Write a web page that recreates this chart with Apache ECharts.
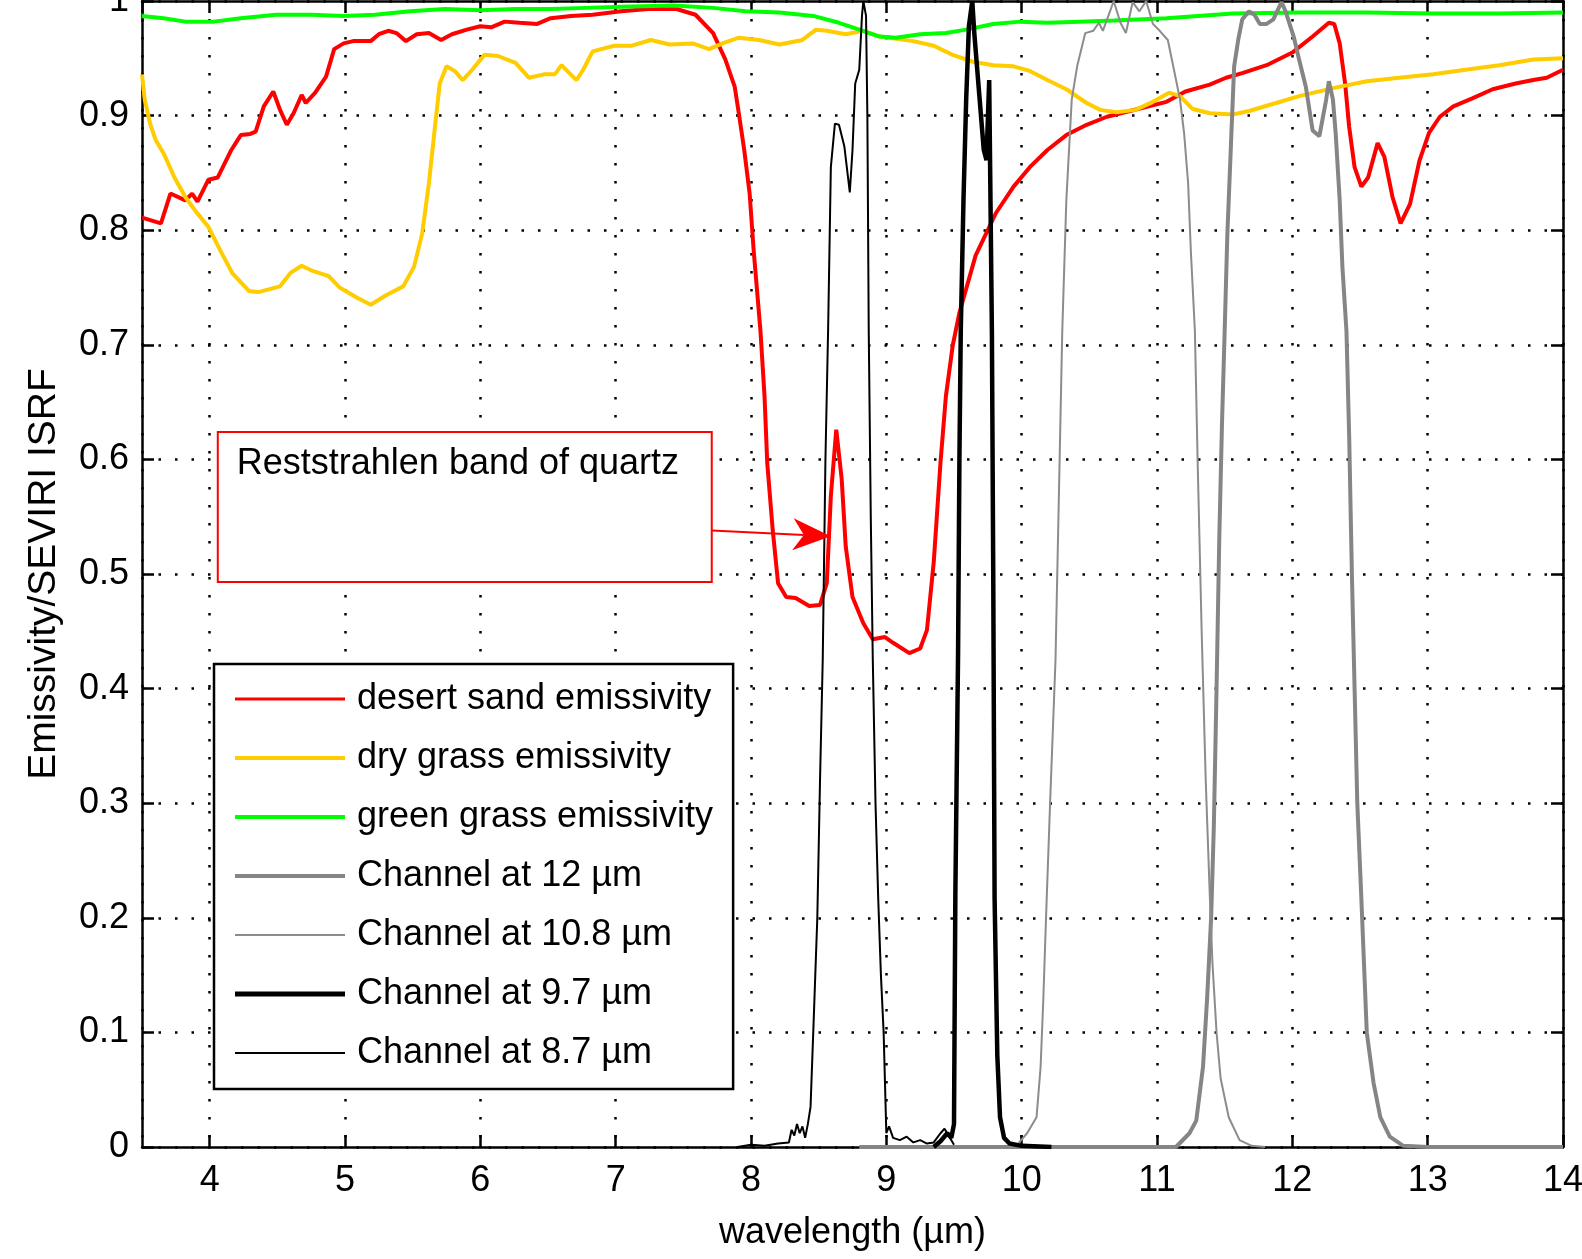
<!DOCTYPE html>
<html><head><meta charset="utf-8">
<script src="https://cdn.jsdelivr.net/npm/echarts@6/dist/echarts.min.js"></script>
<style>html,body{margin:0;padding:0;background:#fff}#c{width:1582px;height:1259px}</style>
</head><body><div id="c"></div>
<script>
// ---------- data ----------
const sandX = [3.50,3.64,3.71,3.82,3.87,3.91,3.99,4.06,4.16,4.23,4.30,4.34,4.40,4.47,4.52,4.57,4.62,4.68,4.71,4.78,4.86,4.92,4.99,5.06,5.19,5.25,5.32,5.38,5.45,5.53,5.62,5.71,5.79,5.90,6.00,6.08,6.18,6.29,6.42,6.52,6.67,6.83,7.04,7.24,7.45,7.59,7.72,7.81,7.88,7.91,7.95,7.99,8.02,8.07,8.10,8.12,8.16,8.20,8.26,8.33,8.43,8.51,8.56,8.59,8.63,8.67,8.70,8.75,8.83,8.90,8.99,9.05,9.17,9.25,9.30,9.35,9.40,9.44,9.49,9.54,9.66,9.81,9.94,10.06,10.19,10.33,10.48,10.63,10.80,11.07,11.21,11.39,11.51,11.63,11.81,12.00,12.15,12.27,12.31,12.35,12.39,12.42,12.46,12.51,12.56,12.63,12.68,12.74,12.80,12.87,12.94,13.01,13.09,13.19,13.33,13.48,13.65,13.78,13.88,14.00];
const sandY = [0.811,0.806,0.832,0.826,0.832,0.825,0.844,0.846,0.870,0.883,0.884,0.886,0.908,0.921,0.905,0.892,0.902,0.918,0.911,0.920,0.934,0.958,0.963,0.965,0.965,0.971,0.974,0.972,0.965,0.971,0.972,0.966,0.971,0.975,0.978,0.977,0.982,0.981,0.980,0.985,0.987,0.988,0.991,0.993,0.993,0.988,0.972,0.949,0.925,0.902,0.870,0.832,0.782,0.712,0.655,0.597,0.539,0.492,0.480,0.479,0.472,0.473,0.492,0.568,0.626,0.583,0.524,0.480,0.457,0.443,0.445,0.440,0.431,0.435,0.451,0.510,0.597,0.655,0.699,0.728,0.778,0.815,0.838,0.855,0.870,0.883,0.892,0.899,0.904,0.912,0.921,0.927,0.933,0.937,0.944,0.955,0.969,0.981,0.980,0.963,0.928,0.890,0.855,0.838,0.846,0.876,0.864,0.829,0.806,0.823,0.861,0.885,0.899,0.908,0.915,0.923,0.928,0.931,0.933,0.940];

const dryX = [3.50,3.52,3.56,3.60,3.66,3.74,3.82,3.90,3.99,4.08,4.17,4.29,4.36,4.52,4.60,4.68,4.75,4.88,4.96,5.09,5.19,5.30,5.43,5.51,5.57,5.62,5.66,5.70,5.75,5.81,5.87,5.94,6.03,6.13,6.26,6.36,6.47,6.55,6.60,6.71,6.76,6.83,6.99,7.12,7.26,7.40,7.57,7.69,7.79,7.91,8.06,8.21,8.38,8.48,8.56,8.70,8.83,8.95,9.20,9.35,9.49,9.64,9.79,9.94,10.06,10.19,10.33,10.48,10.58,10.70,10.84,10.97,11.09,11.17,11.26,11.39,11.56,11.68,11.88,12.05,12.30,12.55,12.79,13.04,13.28,13.53,13.78,14.00];
const dryY = [0.936,0.914,0.893,0.879,0.867,0.846,0.829,0.816,0.803,0.782,0.762,0.747,0.746,0.751,0.763,0.769,0.765,0.760,0.750,0.741,0.735,0.743,0.751,0.768,0.797,0.841,0.885,0.928,0.943,0.939,0.931,0.940,0.953,0.952,0.946,0.933,0.936,0.936,0.944,0.931,0.940,0.956,0.961,0.961,0.966,0.962,0.963,0.958,0.963,0.968,0.966,0.962,0.966,0.975,0.974,0.971,0.974,0.969,0.965,0.961,0.953,0.947,0.944,0.943,0.939,0.931,0.923,0.911,0.905,0.903,0.905,0.912,0.920,0.917,0.906,0.902,0.901,0.904,0.911,0.917,0.924,0.930,0.933,0.936,0.940,0.944,0.949,0.950];

const greenX = [3.50,3.66,3.82,4.03,4.23,4.49,4.75,4.99,5.22,5.48,5.74,6.00,6.26,6.52,6.78,7.04,7.43,7.72,7.96,8.21,8.46,8.65,8.80,8.95,9.07,9.25,9.44,9.59,9.79,9.99,10.19,10.43,10.68,11.07,11.56,12.05,12.55,13.04,13.53,14.00];
const greenY = [0.987,0.985,0.982,0.982,0.985,0.988,0.988,0.987,0.988,0.991,0.993,0.992,0.993,0.993,0.994,0.995,0.996,0.994,0.991,0.990,0.987,0.981,0.975,0.969,0.968,0.971,0.972,0.975,0.980,0.982,0.981,0.982,0.983,0.985,0.989,0.990,0.990,0.989,0.989,0.990];

const ch12X = [8.80,9.50,10.50,11.14,11.24,11.29,11.34,11.37,11.40,11.42,11.44,11.46,11.48,11.50,11.52,11.55,11.57,11.60,11.63,11.68,11.72,11.76,11.81,11.86,11.92,11.95,12.01,12.05,12.10,12.15,12.20,12.25,12.27,12.30,12.32,12.35,12.37,12.40,12.42,12.44,12.46,12.48,12.51,12.55,12.60,12.65,12.72,12.82,13.00,14.00];
const ch12Y = [0,0,0,0,0.012,0.023,0.070,0.129,0.200,0.280,0.400,0.530,0.630,0.712,0.797,0.885,0.943,0.966,0.984,0.991,0.988,0.980,0.980,0.984,0.999,0.991,0.969,0.949,0.925,0.887,0.882,0.914,0.930,0.914,0.885,0.826,0.768,0.712,0.620,0.500,0.400,0.300,0.217,0.100,0.056,0.026,0.009,0.001,0,0];

const ch108X = [9.90,9.96,10.04,10.11,10.14,10.16,10.18,10.21,10.25,10.28,10.30,10.33,10.37,10.41,10.47,10.53,10.57,10.60,10.65,10.68,10.73,10.77,10.82,10.87,10.92,10.97,11.02,11.08,11.12,11.17,11.20,11.23,11.25,11.28,11.30,11.33,11.36,11.39,11.41,11.44,11.47,11.53,11.61,11.70,11.80];
const ch108Y = [0,0.001,0.012,0.026,0.070,0.129,0.200,0.300,0.425,0.597,0.712,0.826,0.914,0.943,0.972,0.974,0.981,0.974,0.990,1.000,0.981,0.972,0.999,0.991,1.000,0.980,0.974,0.966,0.943,0.914,0.885,0.841,0.782,0.712,0.600,0.450,0.320,0.220,0.160,0.100,0.060,0.026,0.006,0.001,0];

const ch97X = [9.35,9.40,9.45,9.48,9.50,9.51,9.53,9.54,9.55,9.57,9.59,9.61,9.635,9.65,9.68,9.70,9.72,9.74,9.76,9.77,9.78,9.79,9.80,9.82,9.84,9.87,9.91,10.00,10.22];
const ch97Y = [0,0.005,0.012,0.008,0.020,0.220,0.430,0.600,0.712,0.826,0.914,0.978,1.000,0.972,0.928,0.899,0.870,0.861,0.931,0.930,0.712,0.500,0.217,0.080,0.026,0.008,0.003,0.001,0];

const ch87X = [7.90,8.00,8.10,8.20,8.28,8.30,8.32,8.34,8.36,8.38,8.40,8.42,8.44,8.46,8.49,8.51,8.53,8.55,8.57,8.59,8.62,8.65,8.69,8.73,8.75,8.77,8.80,8.82,8.83,8.85,8.86,8.87,8.885,8.90,8.92,8.94,8.96,8.98,9.00,9.02,9.05,9.10,9.15,9.20,9.25,9.30,9.35,9.40,9.43,9.46,9.50];
const ch87Y = [0,0.002,0.001,0.003,0.004,0.015,0.010,0.020,0.012,0.018,0.008,0.020,0.035,0.100,0.200,0.320,0.425,0.600,0.714,0.855,0.893,0.892,0.873,0.833,0.870,0.928,0.940,0.987,1.000,0.987,0.899,0.712,0.550,0.425,0.300,0.217,0.150,0.100,0.012,0.018,0.008,0.006,0.009,0.004,0.006,0.003,0.004,0.012,0.016,0.010,0.002];

const seriesNames = ['desert sand emissivity','dry grass emissivity','green grass emissivity','Channel at 12 \u00b5m','Channel at 10.8 \u00b5m','Channel at 9.7 \u00b5m','Channel at 8.7 \u00b5m'];
const xTitle = 'wavelength (\u00b5m)';
const yTitle = 'Emissivity/SEVIRI ISRF';
const annotText = 'Reststrahlen band of quartz';
// annotation anchor points in data coordinates: box [x0, x1, yTop, yBottom], arrow [from, to]
const annotBox = [4.06, 7.71, 0.624, 0.493];
const annotArrow = [[7.71, 0.538], [8.59, 0.533]];

// ---------- chart ----------
const FONT = '"Liberation Sans", Arial, Helvetica, sans-serif';
const pairs = (xs, ys) => xs.map((x, i) => [x, ys[i]]);
const styles = [
  {color:'#ff0000', width:4},
  {color:'#ffcc00', width:4},
  {color:'#00ff00', width:4},
  {color:'#858585', width:4},
  {color:'#8c8c8c', width:2},
  {color:'#000000', width:4.5},
  {color:'#000000', width:2}
];
const legendThick = [3, 4, 4, 4, 2, 5, 2];
const dataSets = [pairs(sandX,sandY), pairs(dryX,dryY), pairs(greenX,greenY), pairs(ch12X,ch12Y), pairs(ch108X,ch108Y), pairs(ch97X,ch97Y), pairs(ch87X,ch87Y)];

const chart = echarts.init(document.getElementById('c'), null, {renderer:'canvas'});
const axisLineStyle = {color:'#000', width:2.5};
const yFmt = v => (Math.abs(v) < 1e-9 ? '0' : (Math.abs(v - 1) < 1e-9 ? '1' : v.toFixed(1)));

chart.setOption({
  animation: false,
  backgroundColor: '#fff',
  grid: {left:142, right:19, top:1, bottom:112, containLabel:false, outerBoundsMode:'none'},
  xAxis: [{
    type:'value', min:3.5, max:14, splitNumber:10, position:'bottom',
    axisLine:{show:true, onZero:false, lineStyle:axisLineStyle},
    axisTick:{show:true, inside:true, length:12, lineStyle:axisLineStyle},
    axisLabel:{show:true, showMinLabel:false, hideOverlap:false, fontSize:36, color:'#000', fontFamily:FONT, margin:16},
    splitLine:{show:true, lineStyle:{color:'#000', width:2.5, type:[2.5,15.5]}},
    name:xTitle, nameLocation:'middle', nameGap:68,
    nameTextStyle:{fontSize:36, color:'#000', fontFamily:FONT}
  },{
    type:'value', min:3.5, max:14, splitNumber:10, position:'top',
    axisLine:{show:true, onZero:false, lineStyle:axisLineStyle},
    axisTick:{show:true, inside:true, length:12, lineStyle:axisLineStyle},
    axisLabel:{show:false}, splitLine:{show:false}
  }],
  yAxis: [{
    type:'value', min:0, max:1, interval:0.1, position:'left',
    axisLine:{show:true, onZero:false, lineStyle:axisLineStyle},
    axisTick:{show:true, inside:true, length:12, lineStyle:axisLineStyle},
    axisLabel:{show:true, hideOverlap:false, fontSize:36, color:'#000', fontFamily:FONT, margin:13, formatter:yFmt},
    splitLine:{show:true, lineStyle:{color:'#000', width:2.5, type:[2.5,14]}},
    name:yTitle, nameLocation:'middle', nameGap:78,
    nameTextStyle:{fontSize:39, color:'#000', fontFamily:FONT}
  },{
    type:'value', min:0, max:1, interval:0.1, position:'right',
    axisLine:{show:true, onZero:false, lineStyle:axisLineStyle},
    axisTick:{show:true, inside:true, length:12, lineStyle:axisLineStyle},
    axisLabel:{show:false}, splitLine:{show:false}
  }],
  legend: {
    data: seriesNames.map((n, i) => ({name:n, icon:'path://M0 0H110V' + legendThick[i] + 'H0Z'})),
    orient:'vertical', left:214, top:664, symbolKeepAspect:true,
    padding:[17,20,18,21], itemWidth:110, itemHeight:36, itemGap:23,
    borderColor:'#000', borderWidth:2.5, backgroundColor:'#fff',
    selectedMode:false,
    textStyle:{fontSize:36, color:'#000', fontFamily:FONT, padding:[0,0,0,7]}
  },
  series: seriesNames.map((n, i) => ({
    name:n, type:'line', xAxisIndex:0, yAxisIndex:0,
    data:dataSets[i], symbol:'none', showSymbol:false, smooth:false,
    lineStyle:{color:styles[i].color, width:styles[i].width},
    itemStyle:{color:styles[i].color},
    emphasis:{disabled:true}, silent:true, z:2+i*0.01
  }))
});

// annotation, anchored through the axes
const px = (x, y) => chart.convertToPixel({xAxisIndex:0, yAxisIndex:0}, [x, y]);
const b0 = px(annotBox[0], annotBox[2]);
const b1 = px(annotBox[1], annotBox[3]);
const a0 = px(annotArrow[0][0], annotArrow[0][1]);
const a1 = px(annotArrow[1][0], annotArrow[1][1]);
const dx = a1[0]-a0[0], dy = a1[1]-a0[1], L = Math.hypot(dx, dy);
const ux = dx/L, uy = dy/L, nx = -uy, ny = ux;
const headL = 38, headW = 16, notch = 27;
const back = [a1[0]-headL*ux, a1[1]-headL*uy];
const nt = [a1[0]-notch*ux, a1[1]-notch*uy];
chart.setOption({graphic:[
  {type:'rect', z:50, shape:{x:b0[0], y:b0[1], width:b1[0]-b0[0], height:b1[1]-b0[1]},
   style:{fill:'#fff', stroke:'#ff0000', lineWidth:2}},
  {type:'text', z:51, x:b0[0]+19, y:b0[1]+32,
   style:{text:annotText, fontSize:36, fontFamily:FONT, fill:'#000', verticalAlign:'middle', align:'left'}},
  {type:'line', z:51, shape:{x1:a0[0], y1:a0[1], x2:nt[0], y2:nt[1]}, style:{stroke:'#ff0000', lineWidth:2}},
  {type:'polygon', z:51, shape:{points:[a1, [back[0]+headW*nx, back[1]+headW*ny], nt, [back[0]-headW*nx, back[1]-headW*ny]]},
   style:{fill:'#ff0000'}}
]});
</script>
</body></html>
